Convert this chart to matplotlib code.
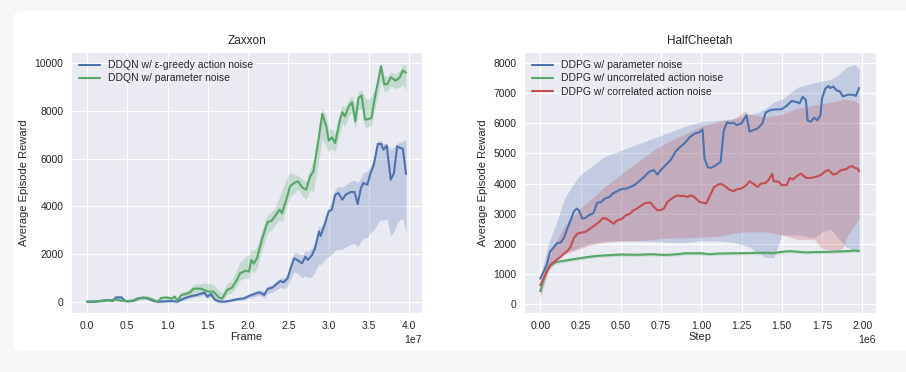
import numpy as np
import matplotlib
matplotlib.use('Agg')
import matplotlib.pyplot as plt
import seaborn as sns
from matplotlib.patches import FancyBboxPatch

# ---- Zaxxon (frames in units of 1e7) ----
zx_green = [0.00, 0.13, 0.22, 0.30, 0.36, 0.43, 0.51, 0.59, 0.66, 0.74, 0.80, 0.88, 0.92, 0.99, 1.05, 1.09,
            1.12, 1.17, 1.24, 1.28, 1.32, 1.41, 1.47, 1.52, 1.57, 1.64, 1.68, 1.74, 1.80, 1.86, 1.90, 1.97,
            2.01, 2.04, 2.07, 2.11, 2.17, 2.24, 2.29, 2.34, 2.39, 2.42, 2.48, 2.52, 2.57, 2.62, 2.67, 2.72,
            2.77, 2.81, 2.88, 2.92, 2.97, 3.00, 3.04, 3.08, 3.14, 3.17, 3.20, 3.25, 3.29, 3.33, 3.37, 3.41,
            3.45, 3.50, 3.53, 3.58, 3.65, 3.69, 3.73, 3.77, 3.83, 3.88, 3.92, 3.96]
zy_green = [0, 15, 40, 70, 85, 40, 30, 55, 155, 170, 110, 0, 155, 180, 130, 210,
            40, 280, 330, 390, 540, 550, 470, 420, 420, 170, 140, 490, 590, 910, 1190, 1300,
            1260, 1750, 1600, 1820, 2590, 3340, 3390, 3620, 3860, 3720, 4350, 4840, 4980, 5050, 4800, 4700,
            5260, 5470, 6940, 7880, 7360, 6760, 6900, 6660, 7640, 7950, 7780, 8200, 8370, 7570, 8560, 8650,
            7640, 7670, 7710, 8700, 9890, 9120, 9140, 9420, 9280, 9400, 9700, 9610]
zlo_green = [-30, -30, 0, 20, 30, -10, -20, 0, 90, 110, 50, -50, 90, 110, 60, 130,
             -30, 170, 200, 250, 380, 380, 280, 220, 200, 30, 40, 300, 380, 650, 900, 1000,
             950, 1350, 1200, 1400, 2150, 2900, 3000, 3250, 3450, 3350, 4000, 4400, 4550, 4700, 4450, 4300,
             4700, 4600, 6000, 6800, 6500, 6300, 6450, 6300, 7100, 7500, 7350, 7800, 7950, 7250, 8050, 8100,
             7300, 7350, 7400, 8200, 9300, 8800, 8850, 9050, 8950, 9000, 9100, 8850]
zhi_green = [30, 60, 80, 120, 130, 90, 80, 110, 220, 230, 170, 60, 220, 250, 210, 300,
             130, 400, 480, 560, 720, 760, 780, 760, 720, 450, 380, 750, 900, 1350, 1650, 1900,
             1950, 2200, 2150, 2300, 3000, 3650, 3750, 4000, 4400, 4700, 5200, 5450, 5350, 5300, 5150, 5050,
             5600, 5900, 7400, 8150, 7750, 7250, 7250, 7100, 8000, 8250, 8150, 8500, 8650, 8200, 8800, 8900,
             8550, 8500, 8600, 9000, 10000, 9500, 9450, 9650, 9550, 9700, 9950, 9950]

zx_blue = [0.00, 0.09, 0.18, 0.26, 0.32, 0.36, 0.43, 0.47, 0.51, 0.57, 0.63, 0.70, 0.76, 0.82, 0.88, 0.97,
           1.05, 1.12, 1.17, 1.24, 1.30, 1.36, 1.43, 1.46, 1.49, 1.54, 1.58, 1.63, 1.70, 1.78, 1.86, 1.95,
           2.01, 2.07, 2.13, 2.17, 2.20, 2.24, 2.30, 2.34, 2.40, 2.44, 2.49, 2.52, 2.57, 2.61, 2.67, 2.71,
           2.74, 2.79, 2.83, 2.88, 2.90, 2.95, 3.00, 3.04, 3.08, 3.12, 3.17, 3.21, 3.27, 3.32, 3.36, 3.40,
           3.43, 3.48, 3.52, 3.56, 3.61, 3.65, 3.68, 3.72, 3.77, 3.81, 3.85, 3.89, 3.92, 3.96]
zy_blue = [0, 0, 40, 70, 40, 180, 180, 40, 15, 40, 140, 170, 130, 40, 0, 15,
           30, 0, 85, 180, 240, 280, 350, 380, 210, 320, 110, 15, 0, 40, 100, 140,
           240, 310, 390, 350, 280, 530, 590, 700, 870, 810, 980, 1330, 1820, 1750, 1610, 1890,
           1750, 1940, 2240, 2950, 2760, 3230, 3790, 3860, 4490, 4560, 4280, 4490, 4600, 4600, 4100, 4770,
           4980, 4910, 5400, 5750, 6620, 6620, 6380, 6550, 5120, 5400, 6520, 6450, 6420, 5360]
zlo_blue = [-40, -40, -10, 20, -10, 110, 110, -20, -30, -10, 80, 110, 70, -10, -50, -40,
            -20, -50, 20, 110, 160, 200, 260, 280, 120, 220, 30, -40, -50, -10, 40, 70,
            150, 200, 260, 220, 150, 350, 400, 480, 600, 550, 650, 900, 1250, 1200, 1000, 1100,
            1000, 1050, 1250, 1600, 1550, 1750, 1900, 2000, 2150, 2200, 2200, 2300, 2400, 2450, 2300, 2550,
            2650, 2700, 2900, 3000, 3300, 3450, 3400, 3500, 2750, 2950, 3300, 3450, 3500, 2900]
zhi_blue = [40, 50, 90, 120, 100, 240, 240, 110, 70, 90, 200, 230, 190, 100, 50, 70,
            80, 60, 150, 250, 310, 360, 440, 470, 320, 420, 200, 80, 50, 100, 170, 220,
            330, 420, 500, 480, 420, 650, 720, 850, 1000, 1000, 1150, 1500, 2050, 2050, 1950, 2150,
            2100, 2250, 2500, 3200, 3100, 3500, 4000, 4200, 4700, 4850, 4800, 4900, 5050, 5100, 5000, 5200,
            5400, 5500, 5700, 6000, 6750, 6750, 6650, 6650, 6400, 6500, 6650, 6700, 6750, 6800]

# ---- HalfCheetah (steps in units of 1e6) ----
hx_param = [0.00, 0.02, 0.04, 0.06, 0.085, 0.105, 0.126, 0.147, 0.168, 0.188, 0.209, 0.226, 0.24, 0.26,
            0.28, 0.30, 0.33, 0.354, 0.379, 0.40, 0.43, 0.45, 0.478, 0.51, 0.53, 0.56, 0.59, 0.61, 0.644,
            0.675, 0.706, 0.727, 0.748, 0.778, 0.81, 0.84, 0.87, 0.90, 0.93, 0.96, 0.99, 1.008, 1.02, 1.04,
            1.06, 1.09, 1.12, 1.14, 1.16, 1.18, 1.20, 1.22, 1.25, 1.28, 1.30, 1.32, 1.35, 1.38, 1.40, 1.43,
            1.46, 1.50, 1.53, 1.56, 1.59, 1.61, 1.63, 1.65, 1.66, 1.68, 1.70, 1.72, 1.74, 1.75, 1.77, 1.79,
            1.80, 1.82, 1.84, 1.86, 1.88, 1.91, 1.94, 1.96, 1.98]
hy_param = [850, 1070, 1310, 1730, 1900, 2030, 2040, 2200, 2510, 2780, 3080, 3170, 3120, 2840,
            2860, 2950, 3020, 3370, 3390, 3500, 3560, 3670, 3750, 3830, 3830, 3890, 3970, 4060, 4220,
            4390, 4450, 4300, 4450, 4610, 4780, 5060, 5220, 5360, 5550, 5660, 5710, 5800, 4830, 4550,
            4520, 4610, 4720, 5770, 6030, 6000, 6020, 5940, 6000, 6270, 5720, 5770, 5830, 6000, 6360, 6440,
            6460, 6470, 6580, 6740, 6710, 6660, 6880, 6770, 6100, 6050, 6190, 6100, 6270, 6830, 7150, 7240,
            7170, 7220, 7090, 7060, 6890, 6950, 6950, 6910, 7170]

hx_corr = [0.00, 0.02, 0.04, 0.06, 0.085, 0.105, 0.126, 0.147, 0.168, 0.188, 0.209, 0.23, 0.25, 0.28,
           0.31, 0.344, 0.365, 0.39, 0.41, 0.435, 0.455, 0.478, 0.51, 0.53, 0.557, 0.58, 0.60, 0.623, 0.654,
           0.685, 0.706, 0.727, 0.748, 0.768, 0.789, 0.82, 0.85, 0.872, 0.893, 0.913, 0.934, 0.955, 0.99,
           1.01, 1.03, 1.06, 1.08, 1.10, 1.12, 1.15, 1.17, 1.20, 1.22, 1.25, 1.28, 1.30, 1.33, 1.35, 1.37,
           1.40, 1.42, 1.44, 1.45, 1.48, 1.50, 1.53, 1.55, 1.57, 1.60, 1.62, 1.65, 1.68, 1.71, 1.74, 1.77,
           1.79, 1.82, 1.84, 1.87, 1.90, 1.92, 1.94, 1.95, 1.97, 1.98]
hy_corr = [630, 850, 1070, 1290, 1400, 1490, 1570, 1680, 1760, 1900, 2200, 2340, 2370, 2400,
           2510, 2640, 2730, 2860, 2840, 2750, 2670, 2780, 2840, 2950, 3000, 3120, 3170, 3260, 3360,
           3370, 3230, 3120, 3120, 3170, 3390, 3520, 3610, 3590, 3590, 3560, 3610, 3560, 3390,
           3370, 3340, 3670, 3890, 3950, 4000, 3910, 3810, 3750, 3810, 3840, 3950, 4080, 3970, 3890, 4000,
           4020, 4140, 4330, 4080, 4060, 3950, 3950, 4190, 4140, 4280, 4330, 4190, 4190, 4220, 4280, 4410,
           4450, 4300, 4330, 4450, 4480, 4560, 4580, 4530, 4500, 4410]

hx_uncorr = [0.00, 0.02, 0.04, 0.06, 0.08, 0.10, 0.13, 0.17, 0.20, 0.25, 0.30, 0.35, 0.40, 0.50, 0.60,
             0.70, 0.75, 0.80, 0.85, 0.90, 1.00, 1.05, 1.10, 1.20, 1.30, 1.40, 1.45, 1.50, 1.55, 1.60,
             1.65, 1.70, 1.80, 1.90, 1.95, 1.98]
hy_uncorr = [430, 800, 1100, 1270, 1350, 1400, 1430, 1460, 1490, 1530, 1570, 1600, 1620, 1650, 1640,
             1660, 1640, 1640, 1660, 1690, 1690, 1660, 1680, 1690, 1700, 1710, 1700, 1740, 1760, 1740,
             1720, 1730, 1740, 1760, 1780, 1770]
hspread_uncorr = [150, 120, 90, 70, 60, 50, 50, 50, 50, 50, 50, 50, 50, 50, 50,
                  50, 50, 50, 50, 50, 50, 50, 50, 50, 50, 50, 50, 50, 50, 50,
                  50, 50, 50, 50, 50, 50]

hbx_param = [0.00, 0.05, 0.10, 0.15, 0.20, 0.25, 0.30, 0.40, 0.50, 0.60, 0.70, 0.80, 0.90, 1.00, 1.10,
             1.20, 1.30, 1.35, 1.40, 1.45, 1.50, 1.60, 1.70, 1.75, 1.80, 1.85, 1.90, 1.95, 1.98]
hlo_param = [750, 1300, 1550, 1700, 1800, 1900, 2000, 2100, 2100, 2100, 2080, 2050, 2050, 2100, 2100,
             2050, 1900, 1700, 1550, 1550, 2300, 2300, 2200, 2400, 2500, 2200, 1900, 1800, 1800]
hhi_param = [900, 2000, 2700, 3500, 3950, 4300, 4500, 4900, 5100, 5300, 5500, 5700, 5900, 6050, 6100,
             6150, 6300, 6350, 6500, 6700, 6800, 7200, 7350, 7400, 7450, 7600, 7850, 7950, 7800]

hbx_corr = [0.00, 0.05, 0.10, 0.15, 0.20, 0.25, 0.30, 0.40, 0.50, 0.60, 0.70, 0.80, 0.90, 1.00, 1.10,
            1.20, 1.27, 1.30, 1.40, 1.50, 1.60, 1.70, 1.75, 1.80, 1.85, 1.88, 1.90, 1.95, 1.98]
hlo_corr = [200, 1100, 1450, 1650, 1750, 1850, 1950, 2050, 2100, 2100, 2150, 2200, 2200, 2230, 2250,
            2350, 2400, 2400, 2400, 2300, 2150, 2150, 1850, 1800, 1800, 1850, 2200, 2600, 2850]
hhi_corr = [700, 1500, 2100, 2600, 2900, 3200, 3400, 3900, 4300, 4700, 5100, 5400, 5650, 5900, 6050,
            6150, 6400, 6300, 6200, 6300, 6500, 6600, 6650, 6700, 6750, 6800, 6800, 6750, 6650]

sns.set_style('darkgrid')
plt.rcParams['font.family'] = ['Liberation Sans', 'DejaVu Sans']

blue, green, red = '#4C72B0', '#55A868', '#C44E52'

fig = plt.figure(figsize=(9.06, 3.72), dpi=100)
fig.patch.set_facecolor('#f7f7f7')
# white card behind both panels
card = FancyBboxPatch((14 / 906, 1 - 351 / 372), 1.0, 340 / 372,
                      boxstyle='round,pad=0,rounding_size=0.012',
                      transform=fig.transFigure, facecolor='white', edgecolor='none', zorder=-10)
fig.patches.append(card)

ax1 = fig.add_axes([71 / 906, 1 - 313 / 372, 351 / 906, 261 / 372])
ax2 = fig.add_axes([524 / 906, 1 - 313 / 372, 352 / 906, 261 / 372])

s7 = 1e7
ax1.fill_between(np.array(zx_blue) * s7, zlo_blue, zhi_blue, color=blue, alpha=0.25, lw=0)
ax1.fill_between(np.array(zx_green) * s7, zlo_green, zhi_green, color=green, alpha=0.25, lw=0)
ax1.plot(np.array(zx_blue) * s7, zy_blue, color=blue, lw=1.5, label='DDQN w/ \u03b5-greedy action noise')
ax1.plot(np.array(zx_green) * s7, zy_green, color=green, lw=1.5, label='DDQN w/ parameter noise')
ax1.set_xlim(-0.198e7, 4.158e7)
ax1.set_ylim(-475, 10480)
ax1.set_title('Zaxxon', fontsize=8.5)
ax1.set_xlabel('Frame', fontsize=8, labelpad=1)
ax1.set_ylabel('Average Episode Reward', fontsize=8)

s6 = 1e6
ax2.fill_between(np.array(hbx_param) * s6, hlo_param, hhi_param, color=blue, alpha=0.25, lw=0)
ax2.fill_between(np.array(hx_uncorr) * s6, np.array(hy_uncorr) - np.array(hspread_uncorr),
                 np.array(hy_uncorr) + np.array(hspread_uncorr), color=green, alpha=0.25, lw=0)
ax2.fill_between(np.array(hbx_corr) * s6, hlo_corr, hhi_corr, color=red, alpha=0.25, lw=0)
ax2.plot(np.array(hx_param) * s6, hy_param, color=blue, lw=1.5, label='DDPG w/ parameter noise')
ax2.plot(np.array(hx_uncorr) * s6, hy_uncorr, color=green, lw=1.5, label='DDPG w/ uncorrelated action noise')
ax2.plot(np.array(hx_corr) * s6, hy_corr, color=red, lw=1.5, label='DDPG w/ correlated action noise')
ax2.set_xlim(-0.101e6, 2.085e6)
ax2.set_ylim(-290, 8365)
ax2.set_yticks(range(0, 8001, 1000))
ax2.set_title('HalfCheetah', fontsize=8.5)
ax2.set_xlabel('Step', fontsize=8, labelpad=1)
ax2.set_ylabel('Average Episode Reward', fontsize=8)

for ax in (ax1, ax2):
    ax.tick_params(labelsize=7.5, pad=2)
    ax.xaxis.get_offset_text().set_fontsize(7.5)
    ax.legend(loc='upper left', fontsize=7.5, frameon=False, handlelength=2.0,
              labelspacing=0.3, borderaxespad=0.4)

fig.savefig('out.png', dpi=100, facecolor=fig.get_facecolor())
